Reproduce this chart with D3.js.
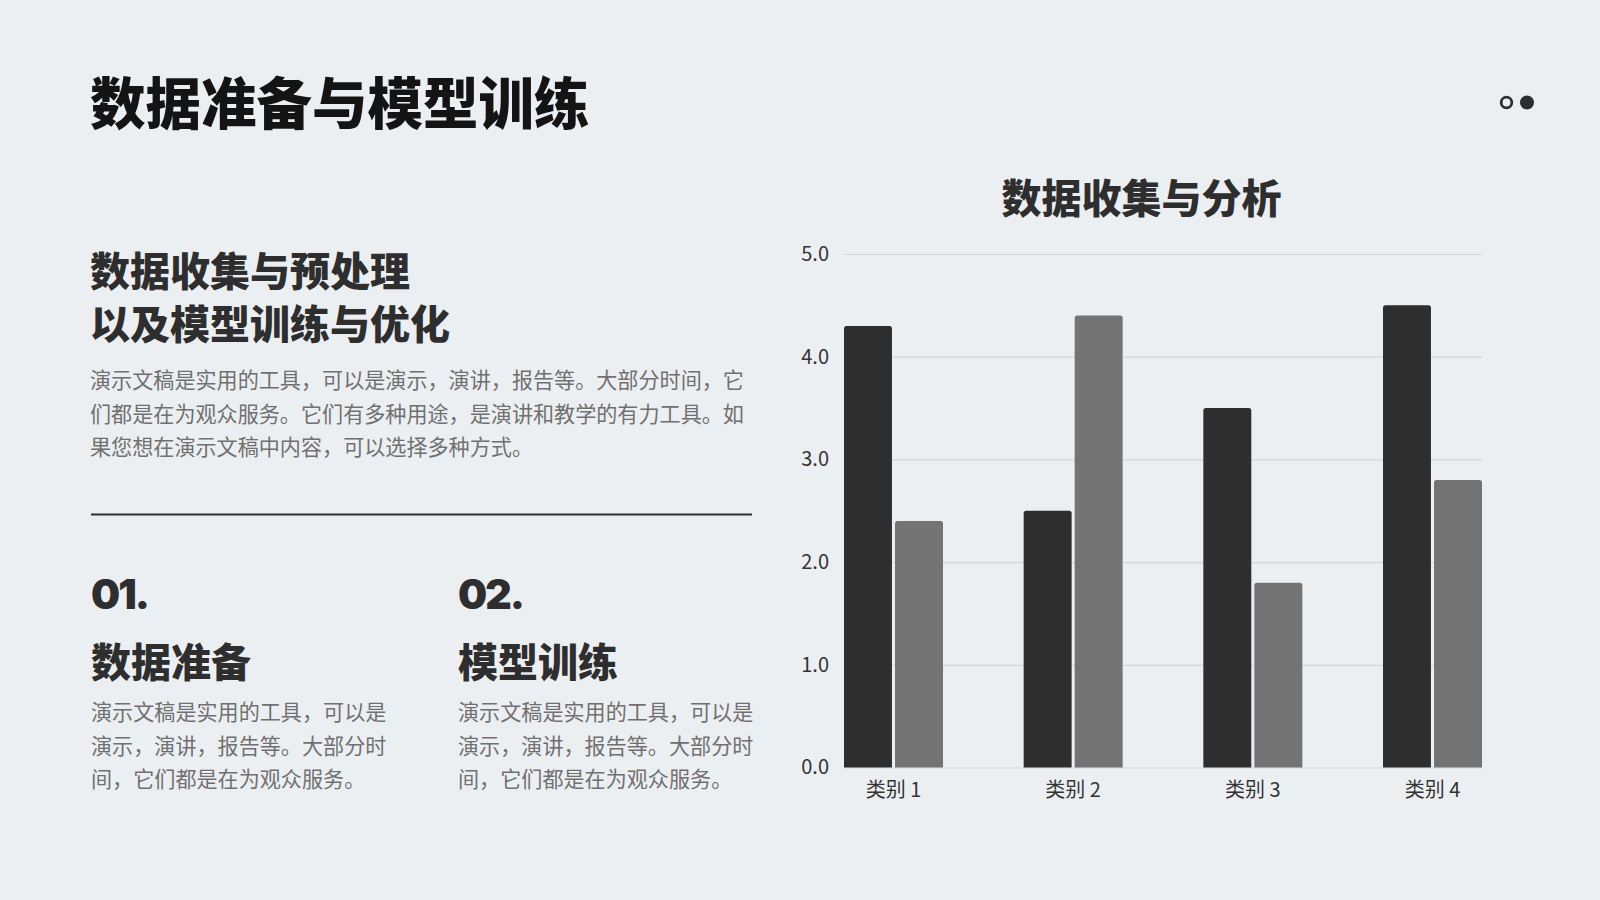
<!DOCTYPE html>
<html>
<head>
<meta charset="utf-8">
<script src="https://cdn.jsdelivr.net/npm/d3@7"></script>
<style>
  html, body { margin: 0; padding: 0; background: #eceff2; }
  svg { display: block; }
  .cjk { font-family: "Noto Sans CJK SC", "Noto Sans", sans-serif; }
</style>
</head>
<body>
<svg id="slide" width="1600" height="900"></svg>
<script>
// chart data
var categories = ["类别 1", "类别 2", "类别 3", "类别 4"];
var seriesNames = ["系列 1", "系列 2"];
var series1 = [4.3, 2.5, 3.5, 4.5];
var series2 = [2.4, 4.4, 1.8, 2.8];
var yTicks = [0, 1, 2, 3, 4, 5];

// slide texts
var pageTitle = "数据准备与模型训练";
var chartTitle = "数据收集与分析";
var headLines = ["数据收集与预处理", "以及模型训练与优化"];
var introLines = [
  "演示文稿是实用的工具，可以是演示，演讲，报告等。大部分时间，它",
  "们都是在为观众服务。它们有多种用途，是演讲和教学的有力工具。如",
  "果您想在演示文稿中内容，可以选择多种方式。"
];
var itemNums = ["01.", "02."];
var itemTitles = ["数据准备", "模型训练"];
var itemLines = [
  "演示文稿是实用的工具，可以是",
  "演示，演讲，报告等。大部分时",
  "间，它们都是在为观众服务。"
];

var colors = ["#2e2e2e", "#737373"];

let svg = d3.select("#slide");

svg.append("rect")
  .attr("width", 1600).attr("height", 900)
  .attr("fill", "#eceff2");

// ---- left side text ----
svg.append("text")
  .attr("class", "cjk")
  .attr("x", 90).attr("y", 124)
  .attr("font-size", 55.5).attr("font-weight", 900)
  .attr("fill", "#141414")
  .text(pageTitle);

svg.append("g").selectAll("text")
  .data(headLines)
  .enter().append("text")
  .attr("class", "cjk")
  .attr("x", 90)
  .attr("y", function(d, i){ return 286 + i * 53; })
  .attr("font-size", 40).attr("font-weight", 900)
  .attr("fill", "#2e2e2e")
  .text(function(d){ return d; });

svg.append("g").selectAll("text")
  .data(introLines)
  .enter().append("text")
  .attr("class", "cjk")
  .attr("x", 90)
  .attr("y", function(d, i){ return 388 + i * 33.6; })
  .attr("font-size", 21.1)
  .attr("fill", "#707070")
  .text(function(d){ return d; });

svg.append("line")
  .attr("x1", 91).attr("x2", 752)
  .attr("y1", 514.5).attr("y2", 514.5)
  .attr("stroke", "#2e2e2e").attr("stroke-width", 2);

var colX = [91, 458];
itemNums.forEach(function(num, i){
  var g = svg.append("g");
  g.append("text")
    .attr("x", colX[i]).attr("y", 609)
    .attr("font-family", "Inter, 'Noto Sans', sans-serif")
    .attr("font-size", 41).attr("font-weight", 900)
    .attr("letter-spacing", -2)
    .attr("fill", "#2e2e2e")
    .text(num);
  g.append("text")
    .attr("class", "cjk")
    .attr("x", colX[i]).attr("y", 677)
    .attr("font-size", 40).attr("font-weight", 900)
    .attr("fill", "#2e2e2e")
    .text(itemTitles[i]);
  g.selectAll("text.body")
    .data(itemLines)
    .enter().append("text")
    .attr("class", "body cjk")
    .attr("x", colX[i])
    .attr("y", function(d, j){ return 720 + j * 33.6; })
    .attr("font-size", 21.1)
    .attr("fill", "#707070")
    .text(function(d){ return d; });
});

// decoration dots top right
svg.append("circle")
  .attr("cx", 1506.5).attr("cy", 102.5).attr("r", 5.3)
  .attr("fill", "none").attr("stroke", "#2e2e2e").attr("stroke-width", 2.8);
svg.append("circle")
  .attr("cx", 1527).attr("cy", 102.5).attr("r", 7)
  .attr("fill", "#2e2e2e");

// ---- chart ----
let plotLeft = 844, plotRight = 1482, plotTop = 254, plotBottom = 767.5;

let x0 = d3.scaleBand()
  .domain(categories)
  .range([plotLeft, plotRight])
  .paddingInner(0.449)
  .paddingOuter(0);

let x1 = d3.scaleBand()
  .domain(seriesNames)
  .range([0, x0.bandwidth()])
  .paddingInner(0.06);

let y = d3.scaleLinear()
  .domain([0, 5])
  .range([plotBottom, plotTop]);

svg.append("text")
  .attr("class", "cjk")
  .attr("x", (801 + plotRight) / 2).attr("y", 213)
  .attr("text-anchor", "middle")
  .attr("font-size", 40).attr("font-weight", 900)
  .attr("fill", "#2e2e2e")
  .text(chartTitle);

//grid + y labels
let gY = svg.append("g")
  .attr("transform", "translate(" + plotLeft + ",0)")
  .call(d3.axisLeft(y)
    .tickValues(yTicks)
    .tickSize(-(plotRight - plotLeft))
    .tickPadding(15)
    .tickFormat(d3.format(".1f")));
gY.select(".domain").remove();
gY.selectAll(".tick line")
  .attr("stroke", "#d3d6d9").attr("stroke-width", 1.2);
gY.selectAll(".tick text")
  .attr("class", "cjk")
  .attr("font-size", 20)
  .attr("fill", "#333");

function topRounded(x, yTop, w, h, r){
  return "M" + x + "," + (yTop + h) +
    "V" + (yTop + r) +
    "Q" + x + "," + yTop + " " + (x + r) + "," + yTop +
    "H" + (x + w - r) +
    "Q" + (x + w) + "," + yTop + " " + (x + w) + "," + (yTop + r) +
    "V" + (yTop + h) + "Z";
}

let rows = categories.map(function(c, i){
  return { cat: c, values: [series1[i], series2[i]] };
});

let gBars = svg.append("g");
gBars.selectAll("g")
  .data(rows)
  .enter().append("g")
  .attr("transform", function(d){ return "translate(" + x0(d.cat) + ",0)"; })
  .selectAll("path")
  .data(function(d){ return d.values.map(function(v, k){ return { s: seriesNames[k], v: v, k: k }; }); })
  .enter().append("path")
  .attr("d", function(d){
    return topRounded(x1(d.s), y(d.v), x1.bandwidth(), plotBottom - y(d.v), 2.5);
  })
  .attr("fill", function(d){ return colors[d.k]; });

// x labels
let gX = svg.append("g")
  .attr("transform", "translate(0," + plotBottom + ")")
  .call(d3.axisBottom(x0).tickSize(0).tickPadding(15));
gX.select(".domain").remove();
gX.selectAll(".tick text")
  .attr("class", "cjk")
  .attr("font-size", 20)
  .attr("fill", "#333");
</script>
</body>
</html>
